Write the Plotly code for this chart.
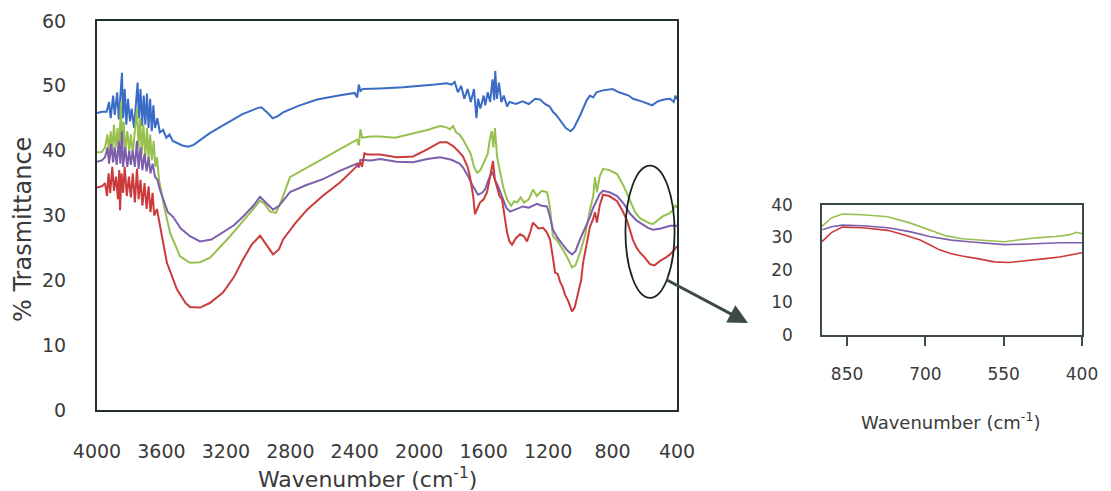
import plotly.graph_objects as go

# ---------------- data ----------------
blue_wn = [4000, 3970, 3940, 3925, 3915, 3900, 3890, 3875, 3865, 3855, 3845, 3838, 3828, 3818, 3808,
           3795, 3785, 3770, 3760, 3748, 3740, 3730, 3720, 3710, 3700, 3690, 3680, 3670, 3660, 3650,
           3640, 3625, 3610, 3590, 3570, 3550, 3530, 3500, 3470, 3435, 3400, 3300, 3200, 3100, 3000,
           2980, 2940, 2910, 2880, 2845, 2750, 2634, 2500, 2400, 2385, 2375, 2365, 2350, 2243, 2100,
           1900, 1830, 1800, 1780, 1760, 1740, 1720, 1700, 1680, 1660, 1645, 1635, 1620, 1600, 1590,
           1575, 1560, 1545, 1535, 1528, 1518, 1505, 1490, 1475, 1455, 1440, 1400, 1360, 1320, 1280,
           1250, 1220, 1190, 1170, 1150, 1120, 1090, 1060, 1040, 1000, 960, 940, 920, 900, 860,
           800, 760, 700, 673, 620, 580, 555, 520, 480, 443, 420, 410, 400]
blue_t = [45.8, 46.0, 46.0, 47.5, 45.0, 48.5, 45.5, 49.0, 44.8, 47.8, 52.0, 45.0, 49.5, 44.0, 48.0,
          44.5, 46.5, 43.5, 47.5, 50.5, 45.0, 49.5, 43.8, 48.5, 44.0, 48.8, 43.5, 48.0, 43.0, 47.0,
          43.5, 45.0, 42.8, 43.2, 42.0, 42.5, 41.5, 41.2, 40.8, 40.6, 40.9, 42.7, 44.2, 45.6, 46.6,
          46.7, 45.8, 45.0, 45.3, 45.9, 46.9, 47.9, 48.5, 48.9, 48.2, 50.2, 49.2, 49.5, 49.6, 49.8,
          50.2, 50.4, 50.2, 50.6, 49.0, 50.0, 48.0, 49.5, 47.5, 49.5, 45.0, 48.0, 46.5, 48.5, 47.0,
          49.0, 47.5, 51.0, 47.8, 52.3, 48.0, 50.5, 47.5, 48.5, 46.8, 47.5, 47.2, 47.6, 47.2, 48.0,
          47.9, 47.2, 46.8, 46.0, 45.5, 44.5, 43.5, 43.0, 43.5, 45.5, 47.8, 48.5, 48.2, 49.0, 49.3,
          49.5, 49.0, 48.5, 48.0, 47.6, 47.3, 47.0, 47.6, 47.9, 48.0, 47.5, 48.5, 47.9]

green_wn = [4000, 3970, 3950, 3935, 3925, 3915, 3905, 3895, 3885, 3872, 3862, 3852, 3845, 3835, 3825,
            3812, 3800, 3790, 3778, 3765, 3752, 3742, 3732, 3722, 3712, 3700, 3690, 3680, 3670, 3660,
            3648, 3638, 3628, 3615, 3600, 3580, 3547, 3485, 3423, 3360, 3298, 3174, 3050, 2988, 2960,
            2926, 2890, 2860, 2802, 2700, 2597, 2500, 2400, 2386, 2375, 2365, 2355, 2300, 2243, 2150,
            2050, 1950, 1871, 1830, 1809, 1790, 1770, 1750, 1728, 1700, 1680, 1660, 1641, 1620, 1600,
            1575, 1560, 1550, 1540, 1530, 1517, 1500, 1480, 1455, 1430, 1410, 1393, 1370, 1350, 1320,
            1294, 1270, 1240, 1207, 1190, 1170, 1140, 1108, 1080, 1052, 1030, 1002, 970, 940, 920,
            909, 897, 880, 859, 820, 772, 730, 692, 660, 630, 600, 570, 549, 520, 487,
            450, 425, 410, 400]
green_t = [39.7, 39.8, 40.5, 42.5, 39.5, 43.0, 40.0, 44.0, 40.5, 43.5, 39.5, 47.5, 40.0, 44.5, 39.8,
           43.0, 40.0, 42.5, 39.5, 43.0, 46.5, 40.5, 45.0, 39.5, 44.0, 39.0, 43.5, 38.8, 42.5, 38.5,
           41.5, 37.5, 39.0, 35.5, 33.5, 31.0, 27.4, 23.7, 22.7, 22.8, 23.5, 26.8, 30.4, 32.3, 31.8,
           30.6, 30.4, 32.0, 35.9, 37.3, 38.7, 40.0, 41.5, 41.7, 40.8, 43.3, 42.0, 42.2, 42.2, 42.0,
           42.6, 43.2, 43.8, 43.6, 43.3, 43.8, 42.8, 42.5, 41.7, 40.5, 39.5, 37.5, 36.6, 37.0, 38.0,
           39.5, 42.0, 43.0, 40.5, 43.5, 39.1, 37.0, 34.5, 32.5, 31.5, 32.2, 32.0, 32.8, 32.0, 32.5,
           34.0, 33.0, 33.8, 33.6, 31.5, 26.8, 26.0, 24.7, 23.5, 22.0, 22.3, 24.3, 27.0, 30.9, 33.0,
           35.9, 33.6, 36.0, 37.2, 37.0, 36.4, 34.5, 32.3, 30.5, 29.6, 29.2, 28.8, 28.7, 29.3, 29.9,
           30.3, 30.8, 31.6, 31.2]

purple_wn = [4000, 3970, 3950, 3935, 3925, 3912, 3900, 3890, 3878, 3865, 3855, 3845, 3838, 3825, 3812,
             3800, 3790, 3778, 3765, 3752, 3742, 3730, 3718, 3705, 3692, 3680, 3668, 3655, 3640, 3625,
             3610, 3590, 3560, 3528, 3480, 3423, 3360, 3290, 3218, 3150, 3094, 3030, 2988, 2950, 2907,
             2870, 2802, 2700, 2597, 2500, 2386, 2375, 2365, 2300, 2243, 2140, 2038, 1950, 1871, 1800,
             1750, 1728, 1700, 1666, 1635, 1610, 1592, 1570, 1548, 1530, 1510, 1486, 1460, 1436, 1400,
             1356, 1320, 1269, 1240, 1207, 1190, 1170, 1140, 1108, 1080, 1052, 1030, 1002, 970, 940,
             920, 897, 880, 859, 820, 772, 730, 692, 650, 611, 580, 549, 500, 443, 400]
purple_t = [38.3, 38.5, 39.0, 40.5, 38.0, 41.0, 38.2, 40.5, 37.8, 41.5, 38.0, 43.0, 37.5, 40.5, 37.5,
            40.0, 37.8, 40.0, 37.5, 41.5, 37.2, 40.5, 37.0, 39.5, 36.8, 39.0, 36.5, 38.0, 36.0, 35.5,
            34.0, 32.5, 30.5, 29.8, 28.0, 26.8, 26.0, 26.3, 27.4, 28.5, 29.8, 31.5, 32.9, 32.0, 30.9,
            31.5, 33.6, 34.7, 35.6, 36.8, 38.0, 37.4, 38.6, 38.5, 38.7, 38.3, 38.2, 38.7, 39.0, 38.6,
            38.0, 37.4, 36.2, 34.5, 33.2, 33.5, 34.0, 35.5, 36.8, 35.5, 34.5, 32.9, 31.2, 30.6, 31.0,
            31.4, 31.2, 31.8, 31.5, 31.4, 30.0, 27.8, 26.5, 25.5, 24.6, 24.0, 24.5, 26.3, 28.0, 29.8,
            31.2, 32.4, 33.3, 33.8, 33.6, 33.0, 31.8, 30.3, 29.2, 28.6, 28.1, 27.8, 28.0, 28.4, 28.4]

red_wn = [4000, 3970, 3950, 3938, 3928, 3918, 3905, 3895, 3882, 3870, 3862, 3857, 3848, 3838, 3828,
          3815, 3802, 3790, 3778, 3765, 3752, 3742, 3730, 3718, 3705, 3692, 3680, 3668, 3655, 3645,
          3628, 3612, 3597, 3566, 3504, 3450, 3423, 3360, 3300, 3218, 3150, 3094, 3040, 2988, 2950,
          2907, 2870, 2845, 2770, 2696, 2600, 2492, 2420, 2365, 2355, 2340, 2324, 2243, 2140, 2038,
          1950, 1871, 1828, 1790, 1760, 1728, 1700, 1685, 1665, 1654, 1640, 1623, 1600, 1579, 1560,
          1542, 1530, 1517, 1502, 1486, 1470, 1455, 1440, 1424, 1400, 1374, 1350, 1331, 1310, 1294,
          1260, 1232, 1210, 1188, 1170, 1157, 1140, 1126, 1110, 1095, 1075, 1052, 1035, 1014, 995,
          983, 960, 940, 920, 909, 897, 880, 859, 820, 772, 740, 710, 690, 673, 650,
          630, 600, 568, 540, 505, 470, 443, 420, 400]
red_t = [34.3, 34.5, 35.0, 33.0, 36.5, 33.5, 37.5, 33.8, 36.0, 32.5, 37.0, 30.8, 36.5, 33.5, 37.5,
         33.0, 36.0, 32.8, 36.5, 32.0, 37.2, 32.5, 35.5, 31.5, 35.0, 31.0, 34.5, 30.5, 33.5, 30.0,
         31.0, 28.5, 26.8, 22.7, 18.6, 16.5, 15.9, 15.8, 16.5, 18.1, 20.5, 23.2, 25.5, 26.9, 25.5,
         24.0, 24.8, 26.3, 28.8, 30.9, 33.0, 35.1, 36.8, 38.2, 37.5, 39.6, 39.4, 39.4, 39.0, 39.1,
         40.2, 41.3, 41.3, 40.7, 40.0, 39.1, 37.5, 36.0, 33.0, 30.2, 31.0, 32.0, 32.5, 33.6, 36.0,
         38.4, 35.5, 34.5, 33.0, 32.5, 30.0, 27.4, 26.0, 25.5, 26.5, 27.1, 26.8, 26.0, 27.5, 28.9,
         28.0, 28.1, 27.5, 26.3, 23.5, 21.2, 21.0, 19.8, 19.0, 17.8, 16.8, 15.2, 15.8, 18.1, 20.0,
         22.7, 25.5, 28.3, 29.5, 30.5, 28.9, 31.5, 33.2, 33.0, 32.2, 30.8, 29.2, 27.6, 26.2, 25.0,
         24.3, 23.5, 22.5, 22.3, 23.0, 23.5, 24.0, 24.6, 25.3]

series = [
    ("blue", blue_wn, blue_t, "#3a6cc6"),
    ("green", green_wn, green_t, "#98c04f"),
    ("purple", purple_wn, purple_t, "#7d5fae"),
    ("red", red_wn, red_t, "#cc3b3b"),
]

main_xticks = [4000, 3600, 3200, 2800, 2400, 2000, 1600, 1200, 800, 400]
main_yticks = [0, 10, 20, 30, 40, 50, 60]
inset_xticks = [850, 700, 550, 400]
inset_yticks = [0, 10, 20, 30, 40]
inset_cut = 915  # inset shows the 900-400 cm-1 region

W, H = 1111, 491
def px(x):
    return x / W
def py(y):
    return (H - y) / H

fig = go.Figure()
for name, wn, t, col in series:
    fig.add_trace(go.Scatter(x=wn, y=t, mode="lines", name=name,
                             line=dict(color=col, width=2), xaxis="x", yaxis="y",
                             showlegend=False))
for name, wn, t, col in series:
    if name == "blue":
        continue
    xs = [w for w in wn if w <= inset_cut]
    ys = [v for w, v in zip(wn, t) if w <= inset_cut]
    fig.add_trace(go.Scatter(x=xs, y=ys, mode="lines", name=name + " (inset)",
                             line=dict(color=col, width=1.6), xaxis="x2", yaxis="y2",
                             showlegend=False))

font_family = "DejaVu Sans, Verdana, sans-serif"
tick_col = "#3a3a3a"
frame_col = "#22302a"

fig.update_layout(
    width=W, height=H, autosize=False,
    margin=dict(l=0, r=0, t=0, b=0, pad=0),
    paper_bgcolor="white", plot_bgcolor="white",
    font=dict(family=font_family, color=tick_col),
    xaxis=dict(domain=[px(97), px(677)], range=[4000, 400], tickvals=main_xticks,
               showgrid=False, zeroline=False, showline=True, mirror=True, automargin=False,
               linecolor=frame_col, linewidth=2, ticks="",
               ticklabelstandoff=23, tickfont=dict(size=19, color=tick_col), anchor="y"),
    yaxis=dict(domain=[py(410), py(21)], range=[0, 60], tickvals=main_yticks,
               showgrid=False, zeroline=False, showline=True, mirror=True, automargin=False,
               linecolor=frame_col, linewidth=2, ticks="",
               ticklabelstandoff=25, tickfont=dict(size=19, color=tick_col), anchor="x"),
    xaxis2=dict(domain=[px(822), px(1082)], range=[898, 400], tickvals=inset_xticks,
                showgrid=False, zeroline=False, showline=True, mirror=True, automargin=False,
                linecolor="#3c4a44", linewidth=1.5, ticks="outside", ticklen=9,
                tickcolor="#3c4a44", tickwidth=1.5, ticklabelstandoff=14,
                tickfont=dict(size=17, color=tick_col), anchor="y2"),
    yaxis2=dict(domain=[py(335), py(205)], range=[0, 40], tickvals=inset_yticks,
                showgrid=False, zeroline=False, showline=True, mirror=True, automargin=False,
                linecolor="#3c4a44", linewidth=1.5, ticks="",
                ticklabelstandoff=24, tickfont=dict(size=17, color=tick_col), anchor="x2"),
)

# axis titles
fig.add_annotation(text="% Trasmittance", x=px(23), y=py(230), xref="paper", yref="paper",
                   textangle=-90, showarrow=False, font=dict(size=24, color=tick_col),
                   xanchor="center", yanchor="middle")
fig.add_annotation(text="Wavenumber (cm<sup>-1</sup>)", x=px(367), y=py(478), xref="paper", yref="paper",
                   showarrow=False, font=dict(size=22, color=tick_col),
                   xanchor="center", yanchor="middle")
fig.add_annotation(text="Wavenumber (cm<sup>-1</sup>)", x=px(950), y=py(421), xref="paper", yref="paper",
                   showarrow=False, font=dict(size=18, color=tick_col),
                   xanchor="center", yanchor="middle")

# ellipse highlighting the 900-400 region
fig.add_shape(type="circle", xref="x", yref="y", x0=720, x1=415, y0=17.3, y1=37.7,
              line=dict(color="#1b2420", width=1.8))

# arrow to the inset
fig.add_annotation(x=px(748), y=py(323), xref="paper", yref="paper", text="",
                   showarrow=True, ax=-83, ay=-44, axref="pixel", ayref="pixel",
                   arrowhead=2, arrowsize=1.3, arrowwidth=3, arrowcolor="#3b4a45")

fig.write_html("out.html")
